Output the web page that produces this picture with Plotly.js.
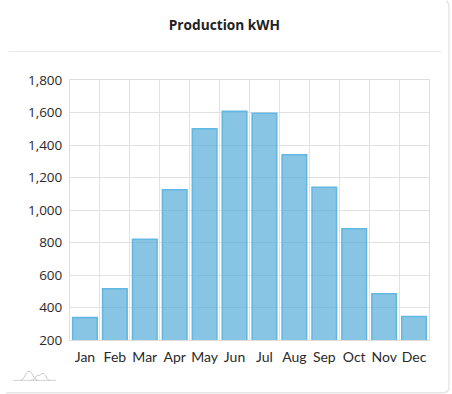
<!DOCTYPE html>
<html><head><meta charset="utf-8">
<script src="https://cdn.plot.ly/plotly-3.0.0.min.js"></script>
<style>html,body{margin:0;padding:0;background:#fff;overflow:hidden}#c{width:452px;height:394px}</style>
</head><body><div id="c"></div>
<script>
const months=["Jan","Feb","Mar","Apr","May","Jun","Jul","Aug","Sep","Oct","Nov","Dec"];
const production=[338,515,820,1125,1500,1608,1595,1340,1140,885,485,345];
const yTicks=[200,400,600,800,1000,1200,1400,1600,1800];
const W=452,H=394,L=70,R=22.5,T=79.5,B=53.5;
const px=v=>((v-L)/(W-L-R)).toFixed(4), py=v=>((H-B-v)/(H-T-B)).toFixed(4);
const cardPath=`M ${px(447)} ${py(0)} Q ${px(449.5)} ${py(2)} ${px(449.5)} ${py(6)} L ${px(449.5)} ${py(388)} Q ${px(449.5)} ${py(393)} ${px(444)} ${py(393.5)} L ${px(6)} ${py(393.5)}`;
const hump1=`M ${px(20)} ${py(381)} C ${px(25)} ${py(381)} ${px(25)} ${py(372)} ${px(29)} ${py(372)} C ${px(33)} ${py(372)} ${px(33)} ${py(381)} ${px(38)} ${py(381)}`;
const hump2=`M ${px(31)} ${py(381)} C ${px(35)} ${py(381)} ${px(36)} ${py(375)} ${px(38)} ${py(376)} C ${px(40)} ${py(377)} ${px(41)} ${py(374)} ${px(43)} ${py(374)} C ${px(46)} ${py(374)} ${px(46)} ${py(381)} ${px(50)} ${py(381)}`;
Plotly.newPlot('c',[{type:'bar',x:months,y:production,width:0.82,
 marker:{color:'rgba(90,174,217,0.72)',line:{color:'#62b8e2',width:1.6}},hoverinfo:'skip'}],{
 width:W,height:H,paper_bgcolor:'#fff',plot_bgcolor:'#fff',showlegend:false,
 font:{family:'Lato, sans-serif',color:'#2a2a2a',size:14},
 title:{text:'<b>Production kWH</b>',x:0.4965,xanchor:'center',y:0.9365,yanchor:'middle',font:{size:13.7,color:'#222',family:'"Open Sans", sans-serif'}},
 margin:{l:L,r:R,t:T,b:B},
 xaxis:{type:'category',tickson:'boundaries',tickangle:0,showgrid:true,gridcolor:'#e2e2e2',linecolor:'#dedede',showline:true,mirror:true,ticks:'',ticklabelstandoff:4,tickfont:{size:14,family:'Lato, sans-serif'}},
 yaxis:{range:[200,1800],tickmode:'array',tickvals:yTicks,tickformat:',d',showgrid:true,gridcolor:'#e2e2e2',linecolor:'#dedede',showline:true,mirror:true,ticks:'',ticklabelstandoff:4,tickfont:{size:13.5,family:'"Open Sans", sans-serif'}},
 shapes:[
  {type:'line',xref:'paper',yref:'paper',x0:px(8),x1:px(442),y0:py(51),y1:py(51),line:{color:'#e8e8e8',width:1}},
  {type:'path',xref:'paper',yref:'paper',path:cardPath,line:{color:'#e6e6e6',width:1.5}},
  {type:'line',xref:'paper',yref:'paper',x0:px(13),x1:px(56),y0:py(381),y1:py(381),line:{color:'#d2d2d2',width:1}},
  {type:'path',xref:'paper',yref:'paper',path:hump1,line:{color:'#c8c8c8',width:1}},
  {type:'path',xref:'paper',yref:'paper',path:hump2,line:{color:'#c8c8c8',width:1}}
 ]
},{staticPlot:true,displayModeBar:false});
</script></body></html>
